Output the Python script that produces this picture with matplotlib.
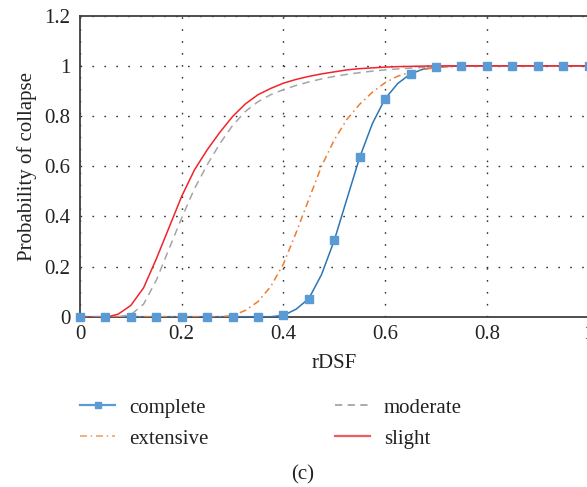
import matplotlib
matplotlib.use("Agg")
import matplotlib.pyplot as plt
from matplotlib.lines import Line2D

# ---------------- data ----------------
x_fine = [0.0, 0.025, 0.05, 0.075, 0.1, 0.125, 0.15, 0.175, 0.2, 0.225,
          0.25, 0.275, 0.3, 0.325, 0.35, 0.375, 0.4, 0.425, 0.45, 0.475,
          0.5, 0.525, 0.55, 0.575, 0.6, 0.625, 0.65, 0.675, 0.7, 0.725,
          0.75, 0.775, 0.8, 0.825, 0.85, 0.875, 0.9, 0.925, 0.95, 0.975, 1.0]

slight = [0.0, -0.003, -0.003, 0.01, 0.045, 0.115, 0.23, 0.355, 0.48, 0.585,
          0.665, 0.735, 0.798, 0.848, 0.885, 0.91, 0.931, 0.946, 0.958, 0.968,
          0.976, 0.984, 0.989, 0.992, 0.995, 0.997, 0.998, 0.999, 1.0, 1.0,
          1.0, 1.0, 1.0, 1.0, 1.0, 1.0, 1.0, 1.0, 1.0, 1.0, 1.0]

moderate = [0.0, 0.0, 0.0, 0.0, 0.008, 0.05, 0.145, 0.27, 0.394, 0.51,
            0.605, 0.69, 0.762, 0.818, 0.857, 0.885, 0.905, 0.922, 0.936, 0.948,
            0.958, 0.966, 0.973, 0.979, 0.984, 0.988, 0.991, 0.994, 0.996, 0.998,
            0.999, 1.0, 1.0, 1.0, 1.0, 1.0, 1.0, 1.0, 1.0, 1.0, 1.0]

extensive = [0.0, 0.0, 0.0, 0.0, 0.0, 0.0, 0.0, 0.0, 0.0, 0.0,
             0.0, 0.0, 0.004, 0.025, 0.06, 0.12, 0.21, 0.335, 0.468, 0.6,
             0.705, 0.787, 0.847, 0.895, 0.933, 0.959, 0.975, 0.986, 0.993, 0.997,
             1.0, 1.0, 1.0, 1.0, 1.0, 1.0, 1.0, 1.0, 1.0, 1.0, 1.0]

complete_line = [0.0, 0.0, 0.0, 0.0, 0.0, 0.0, 0.0, 0.0, 0.0, 0.0,
                 0.0, 0.0, 0.0, 0.0, 0.0, 0.0, 0.005, 0.03, 0.072, 0.168,
                 0.304, 0.47, 0.635, 0.77, 0.869, 0.93, 0.968, 0.987, 0.995, 0.998,
                 1.0, 1.0, 1.0, 1.0, 1.0, 1.0, 1.0, 1.0, 1.0, 1.0, 1.0]

x_markers = [0.0, 0.05, 0.1, 0.15, 0.2, 0.25, 0.3, 0.35, 0.4, 0.45, 0.5,
             0.55, 0.6, 0.65, 0.7, 0.75, 0.8, 0.85, 0.9, 0.95, 1.0]
complete_markers = [0.0, 0.0, 0.0, 0.0, 0.0, 0.0, 0.0, 0.0, 0.005, 0.072, 0.304,
                    0.635, 0.869, 0.968, 0.995, 1.0, 1.0, 1.0, 1.0, 1.0, 1.0]

x_ticks = [0, 0.2, 0.4, 0.6, 0.8, 1.0]
x_tick_labels = ["0", "0.2", "0.4", "0.6", "0.8", "1"]
y_ticks = [0, 0.2, 0.4, 0.6, 0.8, 1.0, 1.2]
y_tick_labels = ["0", "0.2", "0.4", "0.6", "0.8", "1", "1.2"]

series_names = ["complete", "extensive", "moderate", "slight"]

# ---------------- styling ----------------
plt.rcParams['font.family'] = ['Liberation Serif', 'DejaVu Serif']
FS = 15
W, H = 587, 487
fig = plt.figure(figsize=(W / 100, H / 100), dpi=100)
ax = fig.add_axes([80 / W, (H - 316.7) / H, 508.5 / W, 301 / H])

c_blue_line = "#2E75B6"
c_blue_mark = "#5B9BD5"
c_orange = "#ED7D31"
c_gray = "#A5A5A5"
c_red = "#F2232B"
lw = 1.1

ax.plot(x_fine, complete_line, color=c_blue_line, lw=lw, zorder=3)
ax.plot(x_markers, complete_markers, linestyle="none", marker="s", ms=6,
        mfc=c_blue_mark, mec=c_blue_mark, zorder=4, clip_on=False)
ax.plot(x_fine, extensive, color=c_orange, lw=lw,
        dashes=(4.5, 2.5, 1.0, 2.5), zorder=3)
ax.plot(x_fine, moderate, color=c_gray, lw=lw, dashes=(5.0, 3.5), zorder=3)
ax.plot(x_fine, slight, color=c_red, lw=lw, zorder=3)

ax.set_xlim(0, 1.0)
ax.set_ylim(0, 1.2)
ax.set_xticks(x_ticks)
ax.set_xticklabels(x_tick_labels, fontsize=FS, color="#222222")
ax.set_yticks(y_ticks)
ax.set_yticklabels(y_tick_labels, fontsize=FS, color="#222222")
ax.tick_params(length=0, pad=7)
ax.tick_params(axis="x", pad=6)

ax.grid(True, color="#333333", lw=1.0, linestyle=(0, (1.2, 7.4)))
ax.set_axisbelow(True)

for s in ["top", "left", "bottom"]:
    ax.spines[s].set_color("#404040")
    ax.spines[s].set_linewidth(1.3)
ax.spines["right"].set_visible(False)

ax.set_ylabel("Probability of collapse", fontsize=FS, color="#222222", labelpad=5)
fig.text(334 / W, 1 - 363 / H, "rDSF", fontsize=FS, ha="center", va="center",
         color="#222222")
fig.text(303 / W, 1 - 475 / H, "(c)", fontsize=FS, ha="center", va="center",
         color="#222222")

# legend (two columns)
h_complete = Line2D([], [], color=c_blue_mark, lw=1.6, marker="s", ms=5,
                    mfc=c_blue_mark, mec=c_blue_mark)
h_ext = Line2D([], [], color=c_orange, lw=1.1, dashes=(4.5, 2.5, 1.0, 2.5), alpha=0.8)
h_mod = Line2D([], [], color=c_gray, lw=1.3, dashes=(4.0, 3.0))
h_sl = Line2D([], [], color=c_red, lw=1.6, alpha=0.75)

common = dict(frameon=False, fontsize=FS, handlelength=1.7, handletextpad=0.65,
              labelspacing=0.55, borderpad=0, borderaxespad=0,
              labelcolor="#222222")
leg1 = fig.legend([h_complete, h_ext], [series_names[0], series_names[1]],
                  loc="upper left", bbox_to_anchor=(80 / W, 1 - 398 / H), **common)
leg2 = fig.legend([h_mod, h_sl], [series_names[2], series_names[3]],
                  loc="upper left", bbox_to_anchor=(335 / W, 1 - 398 / H), **common)

fig.savefig("out.png", dpi=100)
